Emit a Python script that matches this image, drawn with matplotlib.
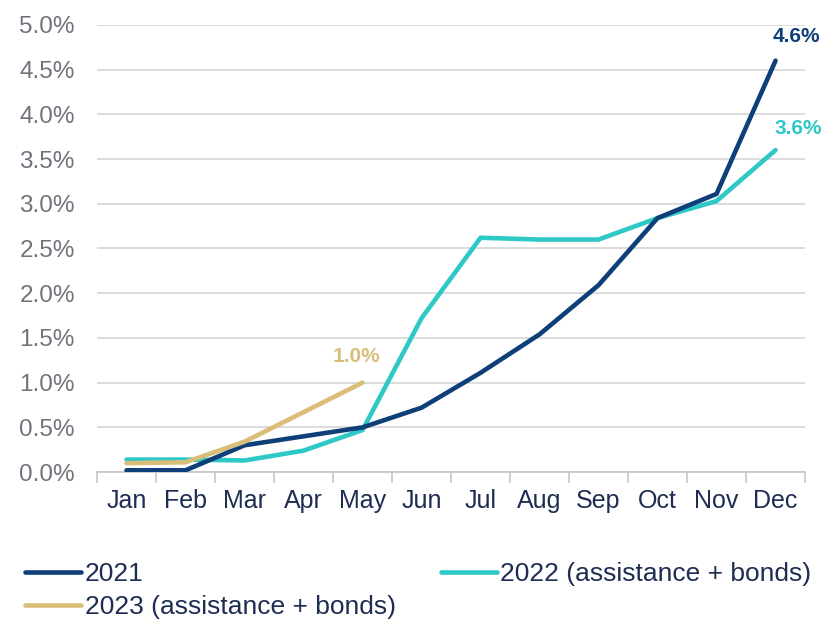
import matplotlib
matplotlib.use("Agg")
import matplotlib.pyplot as plt
from matplotlib.ticker import FuncFormatter, FixedLocator
from matplotlib import font_manager

months = ["Jan", "Feb", "Mar", "Apr", "May", "Jun", "Jul", "Aug", "Sep", "Oct", "Nov", "Dec"]
s2021 = [0.02, 0.02, 0.30, 0.40, 0.50, 0.72, 1.11, 1.54, 2.09, 2.84, 3.11, 4.60]
s2022 = [0.14, 0.14, 0.13, 0.24, 0.47, 1.72, 2.62, 2.60, 2.60, 2.84, 3.03, 3.60]
s2023 = [0.10, 0.11, 0.34, 0.67, 1.00]
yticks = [0.0, 0.5, 1.0, 1.5, 2.0, 2.5, 3.0, 3.5, 4.0, 4.5, 5.0]

c21 = "#0E3F78"
c22 = "#2EC8C6"
c23 = "#D8BE78"

avail = {f.name for f in font_manager.fontManager.ttflist}
base = "Liberation Sans" if "Liberation Sans" in avail else "DejaVu Sans"
plt.rcParams['font.family'] = [base, "DejaVu Sans"]

fig = plt.figure(figsize=(8.25, 6.22), dpi=100)
ax = fig.add_axes([0.1176, 0.241, 0.8582, 0.719])

x = list(range(len(months)))
kw = dict(lw=3.3, solid_capstyle='round', solid_joinstyle='round')
l21, = ax.plot(x, s2021, color=c21, label="2021", zorder=4, **kw)
l22, = ax.plot(x, s2022, color=c22, label="2022 (assistance + bonds)", zorder=3, **kw)
l23, = ax.plot(x[:len(s2023)], s2023, color=c23, label="2023 (assistance + bonds)", zorder=5, **kw)

ax.set_xlim(-0.5, len(months) - 0.5)
ax.set_ylim(0, 5.0)
ax.set_yticks(yticks)
ax.yaxis.set_major_formatter(FuncFormatter(lambda v, p: f"{v:.1f}%"))
ax.set_xticks(x)
ax.set_xticklabels(months)
ax.xaxis.set_minor_locator(FixedLocator([i - 0.5 for i in range(len(months) + 1)]))
ax.tick_params(axis='x', which='major', length=0, pad=12, labelsize=18, labelcolor="#1F2D52")
ax.tick_params(axis='x', which='minor', length=8, width=1.2, color="#C8C8C8")
ax.tick_params(axis='y', length=0, pad=16, labelsize=17.5, labelcolor="#72727C")

ax.grid(axis='y', color="#D9D9D9", lw=1.3, zorder=0)
for s in ['left', 'right', 'top']:
    ax.spines[s].set_visible(False)
ax.spines['bottom'].set_color("#C8C8C8")
ax.spines['bottom'].set_linewidth(1.3)
ax.set_axisbelow(True)

ax.annotate(f"{s2021[-1]:.1f}%", (x[-1], s2021[-1]), xytext=(15, 17.6), textcoords='offset points',
            ha='center', va='center', color=c21, fontsize=15, fontweight='bold')
ax.annotate(f"{s2022[-1]:.1f}%", (x[-1], s2022[-1]), xytext=(16, 15.5), textcoords='offset points',
            ha='center', va='center', color=c22, fontsize=15, fontweight='bold')
ax.annotate(f"{s2023[-1]:.1f}%", (x[len(s2023) - 1], s2023[-1]), xytext=(-4.3, 18.7), textcoords='offset points',
            ha='center', va='center', color=c23, fontsize=15, fontweight='bold')

leg = fig.legend([l21, l23, l22], [l21.get_label(), l23.get_label(), l22.get_label()],
                 ncol=2, loc='upper left', bbox_to_anchor=(0.030, 0.0965), frameon=False,
                 prop={'size': 19}, handlelength=2.15, handletextpad=0.12,
                 columnspacing=1.7, labelspacing=0.34, borderaxespad=0, borderpad=0)
for t in leg.get_texts():
    t.set_color("#1F2D52")

fig.savefig("out.png", dpi=100)
